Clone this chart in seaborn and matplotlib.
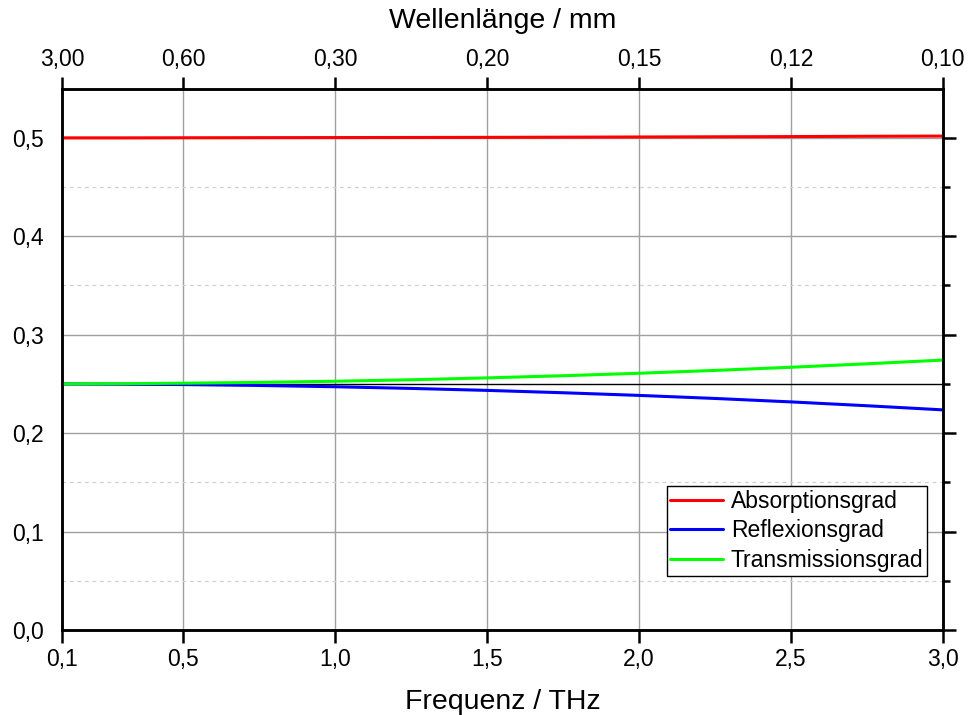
import numpy as np
import pandas as pd
import matplotlib
matplotlib.use("Agg")
import matplotlib.pyplot as plt
import seaborn as sns

# Data
freq = [0.1, 0.3, 0.5, 0.75, 1.0, 1.25, 1.5, 1.75, 2.0, 2.25, 2.5, 2.75, 3.0]
absorption = [0.5000, 0.5000, 0.5001, 0.5002, 0.5003, 0.5004, 0.5005, 0.5007, 0.5009, 0.5011, 0.5013, 0.5016, 0.5018]
reflexion = [0.2500, 0.2497, 0.2493, 0.2484, 0.2471, 0.2454, 0.2434, 0.2410, 0.2383, 0.2352, 0.2317, 0.2278, 0.2236]
transmission = [0.2500, 0.2502, 0.2507, 0.2515, 0.2527, 0.2542, 0.2561, 0.2583, 0.2608, 0.2637, 0.2669, 0.2704, 0.2742]

x_ticks = [0.1, 0.5, 1.0, 1.5, 2.0, 2.5, 3.0]
x_labels = ["0,1", "0,5", "1,0", "1,5", "2,0", "2,5", "3,0"]
top_labels = ["3,00", "0,60", "0,30", "0,20", "0,15", "0,12", "0,10"]
y_ticks = [0.0, 0.1, 0.2, 0.3, 0.4, 0.5]
y_labels = ["0,0", "0,1", "0,2", "0,3", "0,4", "0,5"]
series_names = ["Absorptionsgrad", "Reflexionsgrad", "Transmissionsgrad"]
colors = ["#ff0000", "#0000ff", "#00ff00"]

df = pd.DataFrame({
    "Frequenz": freq * 3,
    "Wert": absorption + reflexion + transmission,
    "Serie": [series_names[0]] * len(freq) + [series_names[1]] * len(freq) + [series_names[2]] * len(freq),
})

sns.set_style("white")
plt.rcParams["font.family"] = ["Liberation Sans", "DejaVu Sans"]
plt.rcParams["text.color"] = "black"
plt.rcParams["axes.labelcolor"] = "black"
plt.rcParams["xtick.color"] = "black"
plt.rcParams["ytick.color"] = "black"

fig = plt.figure(figsize=(9.68, 7.15), dpi=100)
ax = fig.add_axes([0.064, 0.119, 0.910, 0.757])

# grid
for xt in x_ticks:
    ax.axvline(xt, color="#a0a0a0", lw=1.0, zorder=0)
for yt in y_ticks:
    ax.axhline(yt, color="#a0a0a0", lw=1.0, zorder=0)
for ym in [0.05, 0.15, 0.35, 0.45]:
    ax.axhline(ym, color="#d0d0d0", lw=0.9, ls=(0, (3, 3)), zorder=0)
ax.axhline(0.25, color="black", lw=1.0, zorder=1)

sns.lineplot(data=df, x="Frequenz", y="Wert", hue="Serie", palette=colors,
             hue_order=series_names, linewidth=2.2, ax=ax, zorder=3)

ax.set_xlim(0.1, 3.0)
ax.set_ylim(0.0, 0.55)
ax.set_xticks(x_ticks)
ax.set_xticklabels(x_labels)
ax.set_yticks(y_ticks)
ax.set_yticklabels(y_labels)
ax.set_yticks([0.05, 0.15, 0.25, 0.35, 0.45], minor=True)
ax.tick_params(axis="both", which="major", direction="out", length=9, width=1.8,
               labelsize=16.5, pad=4, right=True, colors="black")
ax.tick_params(axis="y", which="minor", direction="out", length=5, width=1.8, right=True)
ax.set_xlabel("Frequenz / THz", fontsize=20.5, labelpad=13, color="black")
ax.set_ylabel("")

for s in ax.spines.values():
    s.set_linewidth(1.8)
    s.set_color("black")

ax2 = ax.twiny()
ax2.set_xlim(ax.get_xlim())
ax2.set_xticks(x_ticks)
ax2.set_xticklabels(top_labels)
ax2.tick_params(axis="x", which="major", direction="out", length=9, width=1.8,
                labelsize=16.5, pad=4, colors="black")
ax2.set_xlabel("Wellenlänge / mm", fontsize=20.5, labelpad=14, color="black")
for s in ax2.spines.values():
    s.set_linewidth(1.8)
    s.set_color("black")

leg = ax.legend(loc="lower right", bbox_to_anchor=(0.982, 0.10), fontsize=16.5,
                frameon=True, fancybox=False, edgecolor="black", framealpha=1,
                handlelength=2.3, borderpad=0.15, labelspacing=0.3, handletextpad=0.35,
                borderaxespad=0)
leg.get_frame().set_linewidth(1.0)
leg.set_title(None)

fig.savefig("out.png", dpi=100)
